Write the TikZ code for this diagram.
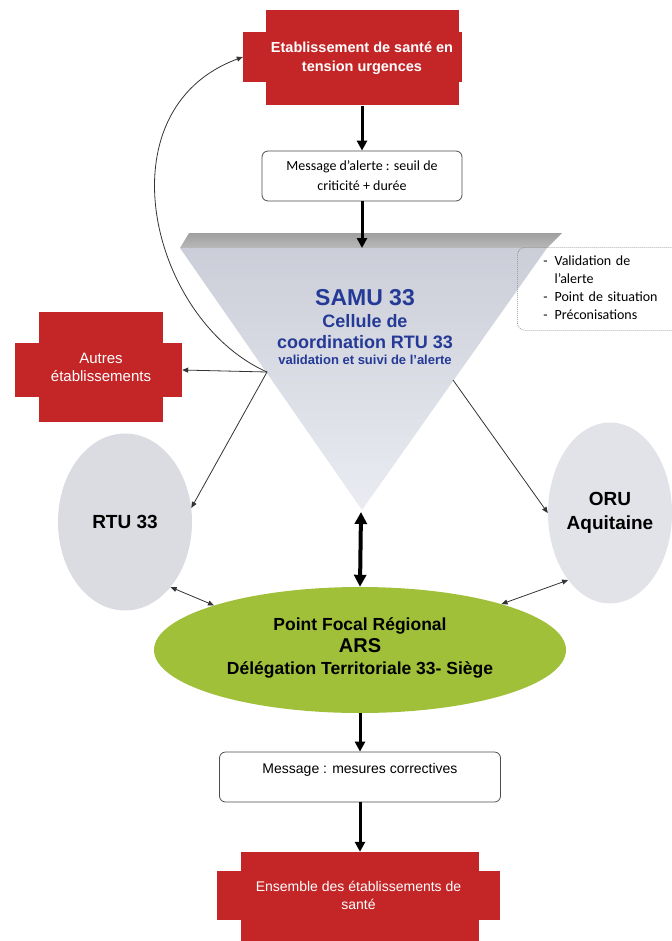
\documentclass[tikz,border=0pt]{standalone}
\usepackage{fontspec}
\setmainfont{Liberation Sans}
\newfontfamily\carlito{Carlito}
\usetikzlibrary{shapes.geometric,arrows.meta}
\definecolor{lightred}{RGB}{196,38,40}
\definecolor{samublue}{RGB}{36,58,150}
\definecolor{samutop}{RGB}{203,206,216}
\definecolor{samubottom}{RGB}{234,236,242}
\definecolor{pfrgreen}{RGB}{160,192,58}
\definecolor{ovalgrey}{RGB}{219,220,226}

\begin{document}
\begin{tikzpicture}[x=1pt,y=-1pt]
\tikzstyle{redband}=[fill=lightred, inner sep=0pt]
\tikzstyle{redbox}=[fill=lightred, text=white, align=center, inner sep=0pt]
\tikzstyle{msgbox}=[draw=black!70, rounded corners=6pt, fill=white, line width=0.8pt, align=center]
\tikzstyle{notebox}=[draw=black!45, dash pattern=on 1pt off 1pt, rounded corners=8pt, line width=0.6pt]
\tikzstyle{oval}=[ellipse, fill=ovalgrey, inner sep=0pt, align=center, font=\bfseries\fontsize{19}{24}\selectfont]
\tikzstyle{samutext}=[text=samublue, font=\bfseries, align=center]
\tikzstyle{bigarrow}=[line width=3pt, -{Triangle[length=10pt,width=10pt]}]
\tikzstyle{thinarrow}=[black!80, line width=0.8pt, -{Triangle[length=6pt,width=5pt]}]
\tikzstyle{thinboth}=[black!80, line width=0.8pt, {Triangle[length=6pt,width=5pt]}-{Triangle[length=6pt,width=5pt]}]

\useasboundingbox (0,0) rectangle (671,941);

% etablissement en tension (haut)
\node[redband, minimum width=219, minimum height=50] (etabband) at (352.5,57) {};
\node[redbox, minimum width=193, minimum height=95, font=\bfseries\fontsize{14.5}{19}\selectfont] (etab) at (362,58) {Etablissement de santé en\\tension urgences};

% message d'alerte
\node[msgbox, minimum width=200, minimum height=50, font=\carlito\fontsize{14}{20}\selectfont] (alerte) at (362,176) {Message d’alerte : seuil de\\criticité + durée};

% SAMU 33 (triangle)
\shade[top color=gray!75, bottom color=gray!55] (189,233) -- (562,233) -- (547,248) -- (180,248) -- cycle;
\shade[top color=samutop, bottom color=samubottom] (180,248) -- (547,248) -- (362,510) -- cycle;
\coordinate (samutop) at (362,248);
\coordinate (samuL) at (267,372);
\coordinate (samuR) at (453,380);
\coordinate (samuB) at (361,512);
\node[samutext, font=\bfseries\fontsize{23}{26}\selectfont] (samu) at (365,298) {SAMU 33};
\node[samutext, font=\bfseries\fontsize{18}{21}\selectfont] (cellule) at (365,332) {Cellule de\\coordination RTU 33};
\node[samutext, font=\bfseries\fontsize{13}{15}\selectfont] (suivi) at (365,360) {validation et suivi de l’alerte};

% note a droite
\node[notebox, anchor=north west, text width=150, inner xsep=26pt, inner ysep=5pt, minimum height=83, font=\carlito\fontsize{14}{18}\selectfont] (note) at (517,247) {\begin{tabular}{@{}l@{\hspace{7pt}}l@{}}-&Validation de\\&l’alerte\\-&Point de situation\\-&Préconisations\end{tabular}};

% autres etablissements
\node[redband, minimum width=167, minimum height=54] (autresband) at (98.5,370) {};
\node[redbox, minimum width=124, minimum height=110, font=\fontsize{15}{18}\selectfont] (autres) at (101,367) {Autres\\établissements};

% RTU 33 et ORU
\node[oval, minimum width=134, minimum height=177] (rtu) at (125,522) {RTU 33};
\node[oval, minimum width=124, minimum height=181, fill=ovalgrey!80] (oru) at (610,513) {ORU\\Aquitaine};

% point focal regional
\node[ellipse, fill=pfrgreen, minimum width=412, minimum height=126, align=center, font=\bfseries\fontsize{17.5}{22}\selectfont] (pfr) at (360,650) {Point Focal Régional\\{\fontsize{20}{22}\selectfont ARS}\\Délégation Territoriale 33- Siège\\[-14pt]\mbox{}};

% message mesures correctives
\node[msgbox, minimum width=281, minimum height=50, font=\fontsize{14}{17}\selectfont] (mesures) at (360,777) {Message : mesures correctives\\\mbox{}};

% ensemble des etablissements (bas)
\node[redband, minimum width=238, minimum height=110] (ensbody) at (360,907) {};
\node[redbox, minimum width=283, minimum height=49, font=\fontsize{14}{18}\selectfont] (ensemble) at (358.5,895) {Ensemble des établissements de\\santé};

% fleches
\draw[bigarrow] (etab.south) -- (alerte.north);
\draw[bigarrow] (alerte.south) -- (samutop);
\draw[thinarrow] (samuL) .. controls (150,320) and (100,110) .. (etabband.west);
\draw[thinarrow] (samuL) -- (autresband.east);
\draw[thinarrow] (samuL) -- (rtu.12);
\draw[thinarrow] (samuR) -- (oru.west);
\draw[line width=4pt, {Triangle[length=12pt,width=12pt]}-{Triangle[length=12pt,width=12pt]}] (samuB) -- (pfr.north);
\draw[thinboth] (rtu.-55) -- (pfr.163);
\draw[thinboth] (oru.-122) -- (pfr.18);
\draw[bigarrow] (pfr.south) -- (mesures.north);
\draw[bigarrow] (mesures.south) -- (ensbody.north);

\end{tikzpicture}
\end{document}
